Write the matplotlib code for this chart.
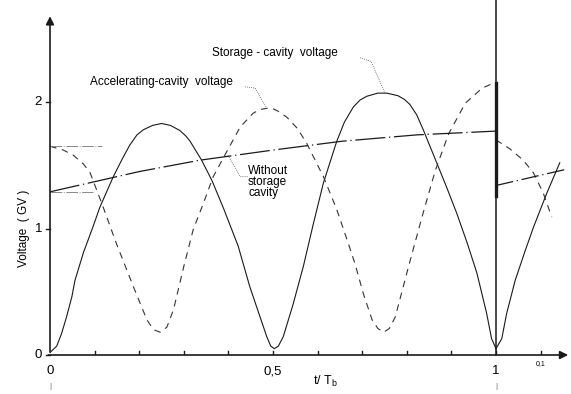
import matplotlib.pyplot as plt
import numpy as np

# storage-cavity voltage (solid), first bunch period and start of next
t_store = [0, 0.015, 0.026, 0.037, 0.049, 0.056, 0.075, 0.095, 0.112, 0.142, 0.162,
           0.179, 0.195, 0.209, 0.23, 0.25, 0.27, 0.291, 0.305, 0.314, 0.34, 0.363,
           0.389, 0.422, 0.448, 0.472, 0.486, 0.495, 0.503, 0.512, 0.523, 0.545,
           0.568, 0.59, 0.613, 0.643, 0.66, 0.68, 0.695, 0.71, 0.735, 0.755, 0.78,
           0.795, 0.807, 0.822, 0.837, 0.867, 0.89, 0.912, 0.935, 0.957, 0.979,
           0.99, 1.0]
v_store = [0.02, 0.07, 0.17, 0.30, 0.46, 0.59, 0.81, 1.0, 1.17, 1.41, 1.55,
           1.66, 1.74, 1.78, 1.815, 1.83, 1.815, 1.775, 1.73, 1.69, 1.54, 1.38,
           1.16, 0.86, 0.54, 0.29, 0.145, 0.07, 0.05, 0.07, 0.145, 0.40,
           0.70, 1.03, 1.36, 1.69, 1.84, 1.96, 2.015, 2.045, 2.07, 2.07, 2.05,
           2.02, 1.98, 1.90, 1.78, 1.52, 1.32, 1.12, 0.89, 0.65, 0.33,
           0.13, 0.05]
t_store2 = [1.0, 1.013, 1.024, 1.043, 1.065, 1.084, 1.114, 1.143]
v_store2 = [0.05, 0.13, 0.33, 0.59, 0.82, 1.01, 1.28, 1.52]

# accelerating-cavity voltage (dashed)
t_acc = [0, 0.03, 0.052, 0.075, 0.09, 0.116, 0.149, 0.187, 0.202, 0.217, 0.232,
         0.247, 0.262, 0.277, 0.30, 0.321, 0.344, 0.366, 0.389, 0.426, 0.455,
         0.47, 0.486, 0.498, 0.51, 0.531, 0.555, 0.576, 0.613, 0.643, 0.669,
         0.684, 0.703, 0.722, 0.735, 0.748, 0.761, 0.774, 0.804, 0.834, 0.864,
         0.894, 0.931, 0.969, 0.995]
v_acc = [1.65, 1.62, 1.58, 1.51, 1.44, 1.20, 0.88, 0.54, 0.41, 0.28, 0.20,
         0.18, 0.22, 0.36, 0.70, 0.99, 1.20, 1.41, 1.56, 1.80, 1.91,
         1.94, 1.95, 1.95, 1.93, 1.88, 1.79, 1.67, 1.41, 1.15, 0.88,
         0.72, 0.48, 0.28, 0.21, 0.18, 0.21, 0.30, 0.70, 1.09, 1.46,
         1.75, 1.99, 2.11, 2.15]
t_acc2 = [1.0, 1.031, 1.061, 1.084, 1.106, 1.125]
v_acc2 = [1.70, 1.63, 1.54, 1.44, 1.28, 1.09]

# accelerating voltage without storage cavity (dash-dot)
t_nostore = [0, 0.1, 0.2, 0.336, 0.5, 0.655, 0.822, 1.0]
v_nostore = [1.29, 1.37, 1.45, 1.54, 1.62, 1.69, 1.74, 1.77]
t_nostore2 = [1.0, 1.16]
v_nostore2 = [1.34, 1.47]

t_reset = 1.0
x_ticks = [0, 0.5, 1]
x_ticklabels = ['0', '0,5', '1']
y_ticks = [0, 1, 2]

plt.rcParams['font.family'] = ['Liberation Sans', 'DejaVu Sans']

fig = plt.figure(figsize=(5.71, 3.94), dpi=100)
ax = fig.add_axes([50 / 571, 39 / 394, 521 / 571, 355 / 394])
ax.set_xlim(0, 521 / 446)
ax.set_ylim(0, 355 / 126.5)
for s in ax.spines.values():
    s.set_visible(False)
ax.set_xticks([])
ax.set_yticks([])

ink = '#1a1a1a'

# curves
ax.plot(t_store, v_store, color=ink, lw=0.8)
ax.plot(t_store2, v_store2, color=ink, lw=0.8)
ax.plot(t_acc, v_acc, color='#333333', lw=0.8, ls=(0, (6, 5)))
ax.plot(t_acc2, v_acc2, color='#333333', lw=0.8, ls=(0, (6, 5)))
ax.plot(t_nostore, v_nostore, color=ink, lw=0.9, ls=(0, (24, 3, 1, 3)))
ax.plot(t_nostore2, v_nostore2, color=ink, lw=0.9, ls=(0, (14, 3, 1, 3)))

# thin reference lines at the start values
ax.plot([0, 0.116], [v_acc[0], v_acc[0]], color='#777777', lw=0.6, ls=(0, (14, 2, 1, 2)))
ax.plot([0, 0.097], [v_nostore[0], v_nostore[0]], color='#777777', lw=0.6, ls=(0, (14, 2, 1, 2)))

# reset line at t = Tb
ax.plot([t_reset, t_reset], [0, 2.81], color=ink, lw=1.1, clip_on=False)
ax.plot([t_reset, t_reset], [v_nostore2[0] - 0.08, v_acc[-1]], color=ink, lw=2.4)

# axes with arrows
ax.annotate('', xy=(1.168, 0), xytext=(-0.01, 0),
            arrowprops=dict(arrowstyle='-|>', color=ink, lw=1.2, mutation_scale=12),
            annotation_clip=False)
ax.annotate('', xy=(0, 2.70), xytext=(0, 0),
            arrowprops=dict(arrowstyle='-|>', color=ink, lw=1.2, mutation_scale=12),
            annotation_clip=False)

# ticks
for t in np.arange(1, 12) / 10:
    ax.plot([t, t], [0, 0.035], color=ink, lw=1.0)
for v in y_ticks:
    ax.plot([-0.009, 0], [v, v], color=ink, lw=1.0, clip_on=False)
    ax.text(-0.018, v, str(v), ha='right', va='center', fontsize=9.5)
for t, lab in zip(x_ticks, x_ticklabels):
    ax.text(t, -0.08, lab, ha='center', va='top', fontsize=9.5)
    if lab != '0,5':
        ax.text(t, -0.22, '|', ha='center', va='top', fontsize=6, color='#666666')
ax.text(1.1, -0.04, '0,1', ha='center', va='top', fontsize=5)

ax.text(0.617, -0.15, 't/ T$_\\mathregular{b}$', ha='center', va='top', fontsize=9)
ax.text(-0.058, 1.0, 'Voltage  ( GV )', rotation=90, ha='center', va='center', fontsize=8.5)

# labels with leader lines
ax.text(0.363, 2.39, 'Storage - cavity  voltage', ha='left', va='center', fontsize=8.5)
ax.plot([0.695, 0.72, 0.751], [2.35, 2.32, 2.07], color='#555555', lw=0.6, ls=(0, (1, 1.5)))
ax.text(0.09, 2.16, 'Accelerating-cavity  voltage', ha='left', va='center', fontsize=8.5)
ax.plot([0.437, 0.46, 0.486], [2.12, 2.11, 1.95], color='#555555', lw=0.6, ls=(0, (1, 1.5)))
ax.text(0.444, 1.50, 'Without\nstorage\ncavity', ha='left', va='top', fontsize=8.5,
        linespacing=0.9)
ax.plot([0.443, 0.426, 0.399], [1.41, 1.41, 1.58], color='#555555', lw=0.6, ls=(0, (1, 1.5)))

fig.savefig('out.png', dpi=100)
